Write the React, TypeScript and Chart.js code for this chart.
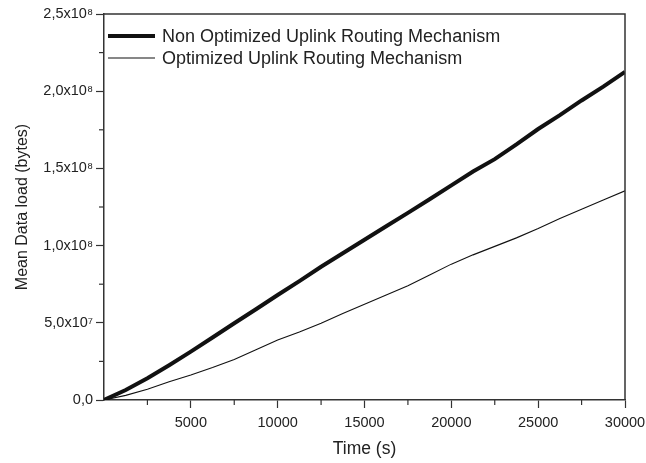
import React, { useEffect, useRef } from "react";
import { Chart, registerables } from "chart.js";

Chart.register(...registerables);

const timeValues = [0, 1250, 2500, 3750, 5000, 6250, 7500, 8750, 10000, 11250, 12500, 13750, 15000, 16250, 17500, 18750, 20000, 21250, 22500, 23750, 25000, 26250, 27500, 28750, 30000];
// bytes, in units of 1e6
const nonOptimized = [0, 6.5, 14.1, 22.5, 31.3, 40.5, 49.7, 58.8, 68, 77, 86.3, 95, 103.8, 112.5, 121.2, 130, 139, 148, 156, 165.5, 175.5, 184.5, 194, 203, 212.5];
const optimized = [0, 3, 6.9, 11.8, 16.2, 21, 26.3, 32.5, 38.9, 44, 49.7, 56, 62, 68, 74, 81, 88, 94, 99.5, 105, 111, 117.5, 123.5, 129.5, 135.5];
const seriesNames = ["Non Optimized Uplink Routing Mechanism", "Optimized Uplink Routing Mechanism"];
const yTickLabels: Record<string, string> = {
  "0": "0,0",
  "50000000": "5,0x10⁷",
  "100000000": "1,0x10⁸",
  "150000000": "1,5x10⁸",
  "200000000": "2,0x10⁸",
  "250000000": "2,5x10⁸",
};
const xTickLabels = ["5000", "10000", "15000", "20000", "25000", "30000"];

const INK = "#222";
const AXIS = "#333";
const FONT = "'Liberation Sans', Arial, sans-serif";

const framePlugin = {
  id: "frameAndMinor",
  afterDraw(chart: any) {
    const { ctx, chartArea } = chart;
    const { left, right, top, bottom } = chartArea;
    ctx.save();
    ctx.strokeStyle = AXIS;
    ctx.lineWidth = 1.5;
    ctx.beginPath();
    ctx.moveTo(left, top);
    ctx.lineTo(right, top);
    ctx.lineTo(right, bottom);
    ctx.stroke();
    // minor ticks
    ctx.lineWidth = 1.2;
    const xs = chart.scales.x;
    xs.ticks.forEach((t: any) => {
      if (t.value % 5000 !== 0) {
        const px = xs.getPixelForValue(t.value);
        ctx.beginPath();
        ctx.moveTo(px, bottom);
        ctx.lineTo(px, bottom + 5);
        ctx.stroke();
      }
    });
    const ys = chart.scales.y;
    ys.ticks.forEach((t: any) => {
      if (Math.round(t.value) % 50000000 !== 0) {
        const py = ys.getPixelForValue(t.value);
        ctx.beginPath();
        ctx.moveTo(left, py);
        ctx.lineTo(left - 5, py);
        ctx.stroke();
      }
    });
    // legend
    const items = chart.data.datasets;
    const lx = left + 4;
    const lineLen = 47;
    let ly = top + 22;
    ctx.font = `18px ${FONT}`;
    ctx.textBaseline = "middle";
    ctx.textAlign = "left";
    items.forEach((ds: any) => {
      ctx.strokeStyle = ds.borderColor;
      ctx.lineWidth = ds.borderWidth;
      ctx.beginPath();
      ctx.moveTo(lx, ly);
      ctx.lineTo(lx + lineLen, ly);
      ctx.stroke();
      ctx.fillStyle = INK;
      ctx.fillText(ds.label, lx + lineLen + 7, ly + 1);
      ly += 22;
    });
    ctx.restore();
  },
};

export default function App() {
  const ref = useRef<HTMLCanvasElement | null>(null);
  useEffect(() => {
    document.body.style.margin = "0";
    if (!ref.current) return;
    const chart = new Chart(ref.current, {
      type: "line",
      data: {
        datasets: [
          {
            label: seriesNames[0],
            data: timeValues.map((t, i) => ({ x: t, y: nonOptimized[i] * 1e6 })),
            borderColor: "#111",
            borderWidth: 4,
            pointRadius: 0,
            tension: 0,
            fill: false,
          },
          {
            label: seriesNames[1],
            data: timeValues.map((t, i) => ({ x: t, y: optimized[i] * 1e6 })),
            borderColor: "#111",
            borderWidth: 1.1,
            pointRadius: 0,
            tension: 0,
            fill: false,
          },
        ],
      },
      options: {
        responsive: false,
        animation: false,
        layout: { padding: { top: 14, right: 21, left: 0, bottom: 0 } },
        plugins: { legend: { display: false }, tooltip: { enabled: false } },
        scales: {
          x: {
            type: "linear",
            min: 0,
            max: 30000,
            afterFit: (s: any) => {
              s.height = 63;
              s.paddingLeft = 0;
              s.paddingRight = 0;
            },
            afterBuildTicks: (s: any) => {
              const arr = [];
              for (let v = 0; v <= 30000; v += 2500) arr.push({ value: v });
              s.ticks = arr;
            },
            ticks: {
              autoSkip: false,
              maxRotation: 0,
              padding: 6,
              color: INK,
              font: { family: FONT, size: 14.5 },
              callback: (v: any) => (xTickLabels.includes(String(v)) ? String(v) : ""),
            },
            grid: {
              drawOnChartArea: false,
              drawTicks: true,
              tickLength: 8,
              tickWidth: 1.2,
              tickColor: (c: any) => (c.tick && c.tick.value % 5000 === 0 && c.tick.value !== 0 ? AXIS : "transparent"),
            },
            border: { display: true, color: AXIS, width: 1.5 },
            title: {
              display: true,
              text: "Time (s)",
              color: INK,
              font: { family: FONT, size: 17.5 },
              padding: { top: 0, bottom: 3.5 },
            },
          },
          y: {
            type: "linear",
            min: 0,
            max: 250000000,
            afterFit: (s: any) => {
              s.width = 104;
              s.paddingTop = 0;
              s.paddingBottom = 0;
            },
            afterBuildTicks: (s: any) => {
              const arr = [];
              for (let v = 0; v <= 250000000; v += 25000000) arr.push({ value: v });
              s.ticks = arr;
            },
            ticks: {
              autoSkip: false,
              padding: 3,
              color: INK,
              font: { family: FONT, size: 14.5 },
              callback: (v: any) => yTickLabels[String(Math.round(Number(v)))] ?? "",
            },
            grid: {
              drawOnChartArea: false,
              drawTicks: true,
              tickLength: 8,
              tickWidth: 1.2,
              tickColor: (c: any) => (c.tick && Math.round(c.tick.value) % 50000000 === 0 ? AXIS : "transparent"),
            },
            border: { display: true, color: AXIS, width: 1.5 },
            title: {
              display: true,
              text: "Mean Data load (bytes)",
              color: INK,
              font: { family: FONT, size: 16 },
              padding: { top: 12.5, bottom: 0 },
            },
          },
        },
      },
      plugins: [framePlugin],
    });
    return () => chart.destroy();
  }, []);
  return (
    <div style={{ width: 646, height: 463 }}>
      <canvas ref={ref} width={646} height={463} />
    </div>
  );
}
